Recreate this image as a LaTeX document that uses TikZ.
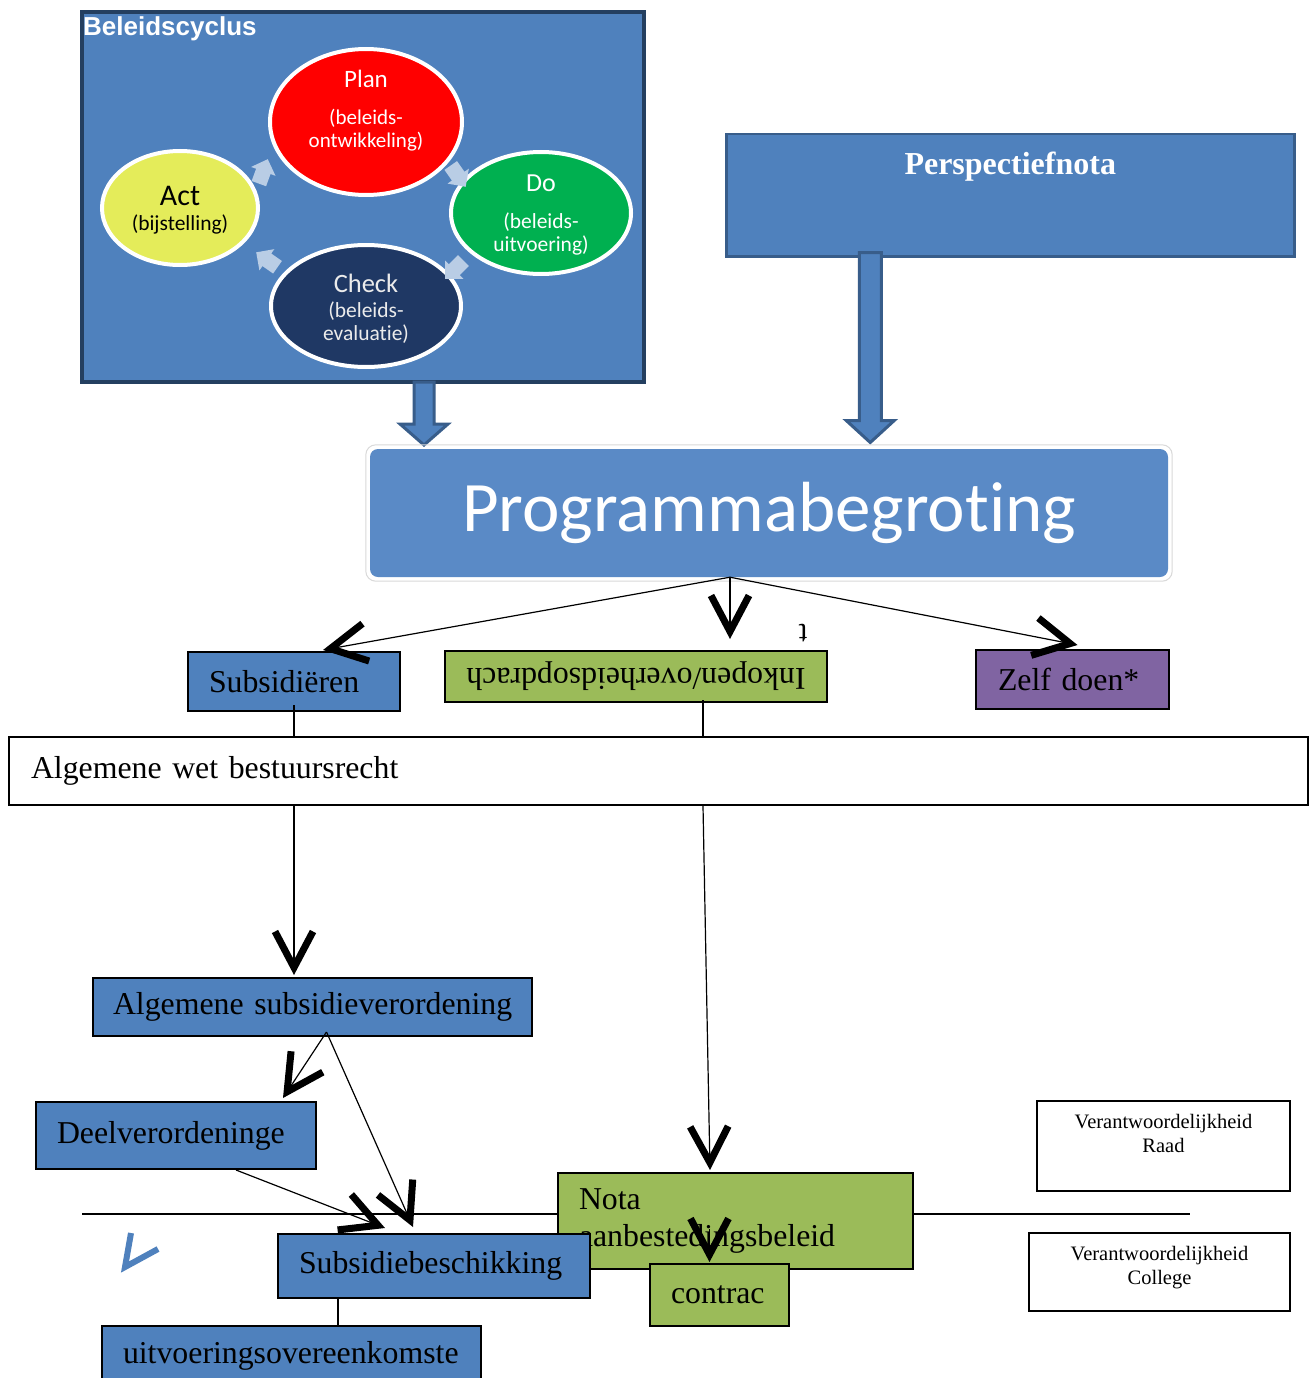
\documentclass[tikz,border=0pt]{standalone}
\usepackage{fontspec}
\setmainfont{Liberation Serif}
\newfontfamily\calfont[Ligatures=NoCommon]{Carlito}
\newfontfamily\arialfont{Liberation Sans}
\usepackage{tikz}
\usetikzlibrary{positioning, arrows.meta, shapes.geometric, shapes.arrows}

\definecolor{boxblue}{HTML}{4F81BD}
\definecolor{framedark}{HTML}{243F60}
\definecolor{arrowedge}{HTML}{385D8A}
\definecolor{progblue}{HTML}{5A8AC6}
\definecolor{boxgreen}{HTML}{9BBB59}
\definecolor{boxpurple}{HTML}{8064A2}
\definecolor{planred}{HTML}{FF0000}
\definecolor{dogreen}{HTML}{00B050}
\definecolor{checknavy}{HTML}{1F3864}
\definecolor{actyellow}{HTML}{E4EC5A}
\definecolor{cyclight}{HTML}{B9CDE5}

\begin{document}
\begin{tikzpicture}[x=1pt, y=-1pt,
  box/.style={draw, line width=2pt, anchor=north west, inner xsep=21pt, inner ysep=0pt, align=left, font=\fontsize{31.8}{37}\selectfont},
  respbox/.style={draw, line width=2pt, anchor=north west, fill=white},
  resptext/.style={align=center, inner sep=0pt, font=\fontsize{20.5}{24}\selectfont},
  cyc/.style={ellipse, draw=white, line width=4pt, inner sep=0pt},
  cyctext/.style={align=center, inner sep=0pt, font=\calfont\fontsize{21.5}{23}\selectfont},
  cycarrow/.style={single arrow, fill=cyclight, minimum height=26pt, minimum width=26pt, single arrow head extend=5pt, inner xsep=0pt, inner ysep=7pt},
  blockarrow/.style={fill=boxblue, draw=arrowedge, line width=3pt, line join=miter},
  vline/.style={-{Straight Barb[length=36pt, width=38pt, line width=7pt]}, line width=1.2pt}
]
\clip (0,0) rectangle (1311,1378);
\fill[white] (0,0) rectangle (1311,1378);

% Beleidscyclus
\node[draw=framedark, line width=4pt, fill=boxblue, anchor=north west, minimum width=562pt, minimum height=370pt] (cycframe) at (80,10) {};
\node[anchor=west, inner sep=2pt, text=white, font=\arialfont\bfseries\fontsize{26}{30}\selectfont] (cyctitle) at (81,29) {Beleidscyclus};

\node[cyc, fill=planred, minimum width=192pt, minimum height=146pt] (plan) at (366,122) {};
\node[cyc, fill=dogreen, minimum width=180pt, minimum height=122pt] (do) at (541,213) {};
\node[cyc, fill=checknavy, minimum width=190pt, minimum height=122pt] (check) at (366,306) {};
\node[cyc, fill=actyellow, minimum width=156pt, minimum height=114pt] (act) at (180,208) {};

\node[cyctext, text=white, font=\calfont\fontsize{21}{23}\selectfont] at ([yshift=11.5pt]plan.center) {{\fontsize{25}{28}\selectfont Plan}\\[14pt](beleids-\\ontwikkeling)};
\node[cyctext, text=white] at ([yshift=-2.5pt]do.center) {{\fontsize{26}{28}\selectfont Do}\\[14pt](beleids-\\uitvoering)};
\node[cyctext, text=white!92!black] at ([yshift=-2.5pt]check.center) {{\fontsize{26.5}{28}\selectfont Check}\\[2pt](beleids-\\evaluatie)};
\node[cyctext, text=black] at ([yshift=-2pt]act.center) {{\fontsize{30}{30}\selectfont Act}\\[2pt](bijstelling)};

\node[cycarrow, rotate=70] (ap) at (262,175) {};
\node[cycarrow, rotate=-55] (pd) at (456,173) {};
\node[cycarrow, rotate=-135] (dc) at (457,267) {};
\node[cycarrow, rotate=145] (ca) at (270,262) {};

% Perspectiefnota
\node[draw=arrowedge, line width=2.5pt, fill=boxblue, anchor=north west, minimum width=568pt, minimum height=122pt] (persp) at (725,133) {};
\node[text=white, font=\bfseries\fontsize{32}{36}\selectfont, inner sep=0pt] at ([yshift=-34pt]persp.north) {Perspectiefnota};

% block arrows
\coordinate (cycfoot) at ([xshift=61pt]cycframe.south);
\coordinate (perspfoot) at ([xshift=-140pt, yshift=5pt]persp.south);
\draw[blockarrow] (cycfoot) ++(-10,-2) -- ++(0,42) -- ++(-14,0) -- ++(24,21) -- ++(24,-21) -- ++(-14,0) -- ++(0,-42) -- cycle;
\draw[blockarrow] (perspfoot) ++(-11,0) -- ++(0,168) -- ++(-13,0) -- ++(24,22) -- ++(24,-22) -- ++(-13,0) -- ++(0,-168) -- cycle;

% Programmabegroting
\node[fill=progblue, rounded corners=8pt, minimum width=798pt, minimum height=128pt, text=white, font=\calfont\fontsize{71}{75}\selectfont] (prog) at (769,513) {Programmabegroting};
\draw[gray!30, line width=1pt, rounded corners=10pt] ([shift={(-4,4)}]prog.south west) rectangle ([shift={(4,-4)}]prog.north east);

% Keuzes
\node[box, fill=boxblue, text width=170pt, minimum height=59pt] (subs) at (187,651) {Subsidiëren};
\node[box, fill=boxgreen, rotate=180, anchor=center, align=center, text width=340pt, minimum height=51pt] (inkopen) at (636,676.5) {Inkopen/overheidsopdrach};
\node[rotate=180, inner sep=0pt, font=\fontsize{31}{37}\selectfont] (tflip) at (803,633) {t};
\node[box, fill=boxpurple, text width=149pt, inner xsep=22pt, minimum height=59pt] (zelf) at (975,649) {Zelf doen*};

\coordinate (fork) at ([xshift=-39pt]prog.south);
\draw[vline] (fork) -- ([xshift=29pt, yshift=1pt]subs.north);
\draw[vline] (fork) -- ([xshift=94pt, yshift=11pt]inkopen.south);
\draw[vline] (fork) -- ([xshift=5pt, yshift=4pt]zelf.north);

% Awb
\node[box, fill=white, text width=1255pt, inner xsep=22pt, minimum height=68pt] (awb) at (8,736) {Algemene wet bestuursrecht};
\coordinate (inkfoot) at ([xshift=67pt, yshift=3pt]inkopen.north);
\draw[line width=1.2pt] ([yshift=7pt]subs.south) -- (subs.south |- awb.north);
\draw[line width=1.2pt] (inkfoot) -- (inkfoot |- awb.north);

% Subsidie
\node[box, fill=boxblue, text width=405pt, inner xsep=17pt, minimum height=58pt] (asv) at (92,977) {\hspace*{3pt}Algemene subsidieverordening};
\node[box, fill=boxblue, text width=238pt, minimum height=67pt] (deel) at (35,1101) {Deelverordeninge};
\draw[vline] (subs.south |- awb.south) -- ([yshift=2pt]subs.south |- asv.north);
\draw[vline] ([xshift=14pt, yshift=5pt]asv.south) -- ([xshift=-34pt, yshift=3pt]deel.north east);

% Inkoop
\node[box, fill=boxgreen, text width=313pt, minimum height=96pt] (nota) at (557,1172) {Nota\\aanbestedingsbeleid};
\draw[vline] (inkfoot |- awb.south) -- ([xshift=-25.5pt, yshift=2pt]nota.north);

\coordinate (leftend) at (82,1214);
\coordinate (rightend) at (1190,1214);
\draw[line width=1.5pt] (leftend) -- (leftend -| nota.west);
\draw[line width=1.5pt] (leftend -| nota.east) -- (rightend);

\node[box, fill=boxblue, text width=270pt, minimum height=64pt] (subsb) at (277,1233) {Subsidiebeschikking};
\draw[vline] ([xshift=14pt, yshift=5pt]asv.south) -- ([xshift=136pt, yshift=6pt]subsb.north west);
\draw[vline] ([xshift=60pt]deel.south) -- ([xshift=108pt, yshift=5pt]subsb.north west);

\node[box, fill=boxblue, text width=337pt, minimum height=60pt] (uitv) at (101,1325) {uitvoeringsovereenkomste};
\draw[line width=1.2pt] ([xshift=-96pt]subsb.south) -- ([xshift=-96pt]subsb.south |- uitv.north);

\node[box, fill=boxgreen, text width=97pt, minimum height=62pt] (contrac) at (649,1263) {contrac};
\draw[vline] ([xshift=-10pt, yshift=34pt]contrac.north) -- ([xshift=-10pt, yshift=1pt]contrac.north);

\draw[boxblue, line width=6pt] (131,1233) -- (125,1267) -- (158,1249);

% Verantwoordelijkheid
\node[respbox, minimum width=253pt, minimum height=90pt] (raad) at (1036,1100) {};
\node[resptext, below=14pt of raad.north] (raadtext) {Verantwoordelijkheid\\Raad};
\node[respbox, minimum width=261pt, minimum height=78pt] (college) at (1028,1232) {};
\node[resptext, below=14pt of college.north] (collegetext) {Verantwoordelijkheid\\College};
\end{tikzpicture}
\end{document}
